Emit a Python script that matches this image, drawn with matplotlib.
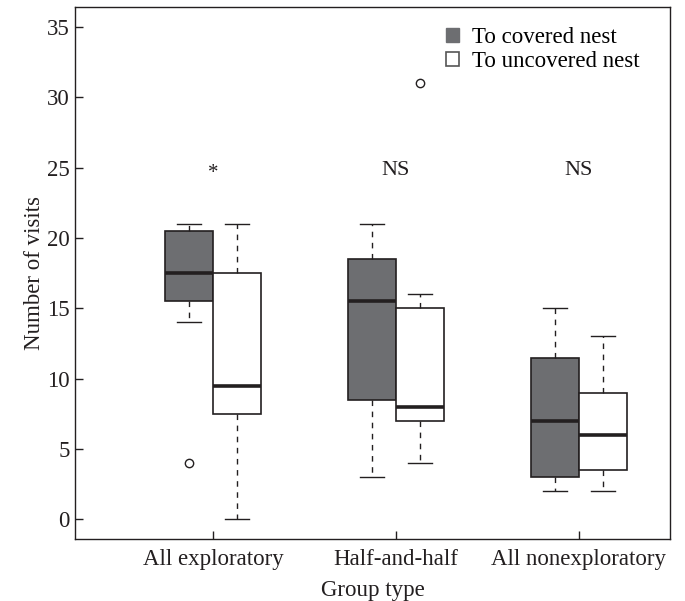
import matplotlib
matplotlib.use("Agg")
import matplotlib.pyplot as plt
from matplotlib.patches import Patch

plt.rcParams['font.family'] = ['Liberation Serif', 'DejaVu Serif']

groups = ["All exploratory", "Half-and-half", "All nonexploratory"]
series = ["To covered nest", "To uncovered nest"]

# box stats: whisker low, Q1, median, Q3, whisker high
covered_lo = [14, 3, 2]
covered_q1 = [15.5, 8.5, 3]
covered_med = [17.5, 15.5, 7]
covered_q3 = [20.5, 18.5, 11.5]
covered_hi = [21, 21, 15]
covered_out = [[4], [], []]

uncovered_lo = [0, 4, 2]
uncovered_q1 = [7.5, 7, 3.5]
uncovered_med = [9.5, 8, 6]
uncovered_q3 = [17.5, 15, 9]
uncovered_hi = [21, 16, 13]
uncovered_out = [[], [31], []]

signif = ["*", "NS", "NS"]

dark = "#231f20"
fill_covered = "#6d6e71"


def make_stats(lo, q1, med, q3, hi, out):
    return [dict(whislo=lo[i], q1=q1[i], med=med[i], q3=q3[i], whishi=hi[i], fliers=out[i])
            for i in range(len(lo))]


fig, ax = plt.subplots(figsize=(6.85, 6.01), dpi=100)
fig.subplots_adjust(left=0.1095, right=0.978, top=0.988, bottom=0.103)

centers = [1, 2, 3]
offset = 0.131
width = 0.262

for stats, shift, color in [
    (make_stats(covered_lo, covered_q1, covered_med, covered_q3, covered_hi, covered_out), -offset, fill_covered),
    (make_stats(uncovered_lo, uncovered_q1, uncovered_med, uncovered_q3, uncovered_hi, uncovered_out), offset, "white"),
]:
    ax.bxp(stats, positions=[c + shift for c in centers], widths=width, patch_artist=True,
           boxprops=dict(facecolor=color, edgecolor=dark, linewidth=1.2),
           medianprops=dict(color=dark, linewidth=2.6),
           whiskerprops=dict(color=dark, linewidth=1.0, linestyle=(0, (4, 4))),
           capprops=dict(color=dark, linewidth=1.0),
           capwidths=width / 2,
           flierprops=dict(marker="o", markersize=6, markerfacecolor="none",
                           markeredgecolor=dark, markeredgewidth=1.0),
           manage_ticks=False)

for c, s in zip(centers, signif):
    if s == "*":
        ax.text(c, 24.6, s, ha="center", va="center", fontsize=15, color=dark)
    else:
        ax.text(c, 24.8, s, ha="center", va="center", fontsize=16, color=dark)

ax.set_xlim(0.246, 3.497)
ax.set_ylim(-1.4, 36.4)
ax.set_yticks(range(0, 36, 5))
ax.set_xticks(centers)
ax.set_xticklabels(groups)
ax.tick_params(direction="in", length=5.5, width=1.0, labelsize=16.5, colors=dark)
ax.tick_params(axis="x", pad=7)
ax.tick_params(axis="y", pad=4)
for sp in ax.spines.values():
    sp.set_linewidth(1.0)
    sp.set_color(dark)

ax.set_xlabel("Group type", fontsize=16.5, color=dark, labelpad=7)
ax.set_ylabel("Number of visits", fontsize=16.5, color=dark, labelpad=1)

handles = [Patch(facecolor=fill_covered, edgecolor=fill_covered, label=series[0]),
           Patch(facecolor="white", edgecolor="#555555", linewidth=1.2, label=series[1])]
ax.legend(handles=handles, loc="upper left", bbox_to_anchor=(0.6235, 0.962), frameon=False,
          fontsize=16.5, handlelength=0.58, handleheight=0.58, handletextpad=0.55,
          labelspacing=0.12, borderaxespad=0, borderpad=0)

fig.savefig("out.png", dpi=100)
